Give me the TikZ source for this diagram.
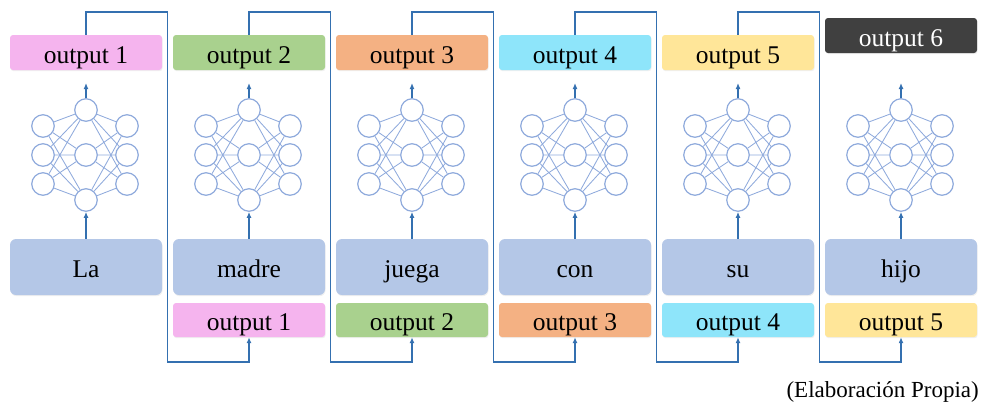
\documentclass[tikz,border=0pt]{standalone}
\usepackage{fontspec}
\setmainfont{Liberation Serif}
\usetikzlibrary{arrows.meta}
\usetikzlibrary{shadows}
\definecolor{pinkbox}{RGB}{245,180,238}
\definecolor{greenbox}{RGB}{169,209,142}
\definecolor{orangebox}{RGB}{244,177,131}
\definecolor{cyanbox}{RGB}{142,229,250}
\definecolor{yellowbox}{RGB}{255,230,153}
\definecolor{wordbox}{RGB}{180,199,231}
\definecolor{darkbox}{RGB}{64,64,64}
\definecolor{feedline}{RGB}{52,112,176}
\definecolor{neuronline}{RGB}{143,170,220}
\tikzset{
	box/.style={rounded corners=3pt, minimum width=152pt, inner sep=0pt,
		font=\fontsize{25.5}{30}\selectfont, text height=22pt, text depth=1pt,
		drop shadow={opacity=0.12, shadow xshift=0.6pt, shadow yshift=-1.2pt}},
	outbox/.style={box, minimum height=35pt},
	tokenbox/.style={box, fill=wordbox, minimum height=56pt, rounded corners=6pt},
	neuron/.style={circle, draw=neuronline, fill=white, line width=1.2pt, minimum size=22.5pt, inner sep=0pt},
	link/.style={draw=neuronline, line width=0.85pt},
	flow/.style={feedline, line width=1.4pt, -{Latex[length=6pt,width=5pt]}},
	feed/.style={feedline, line width=1.4pt, -{Latex[length=6pt,width=5pt]}}
}
\newcommand{\network}[2] % x in px, name prefix
{
	% neurons
	\node[neuron] (#2t) at (#1,110) {};
	\node[neuron] (#2m) at (#1,155) {};
	\node[neuron] (#2b) at (#1,200) {};
	\node[neuron] (#2l1) at (#1-43,126) {};
	\node[neuron] (#2l2) at (#1-43,155) {};
	\node[neuron] (#2l3) at (#1-43,184) {};
	\node[neuron] (#2r1) at (#1+41,126) {};
	\node[neuron] (#2r2) at (#1+41,155) {};
	\node[neuron] (#2r3) at (#1+41,184) {};
	% links left - centre
	\draw[link] (#2l1) -- (#2t) (#2l1) -- (#2m) (#2l1) -- (#2b);
	\draw[link] (#2l2) -- (#2t) (#2l2) -- (#2m) (#2l2) -- (#2b);
	\draw[link] (#2l3) -- (#2t) (#2l3) -- (#2m) (#2l3) -- (#2b);
	% links centre - right
	\draw[link] (#2t) -- (#2r1) (#2t) -- (#2r2) (#2t) -- (#2r3);
	\draw[link] (#2m) -- (#2r1) (#2m) -- (#2r2) (#2m) -- (#2r3);
	\draw[link] (#2b) -- (#2r1) (#2b) -- (#2r2) (#2b) -- (#2r3);
	% output arrow
	\coordinate (#2up) at (#1,83);
	\draw[flow] (#2t) -- (#2up);
}
\begin{document}
\begin{tikzpicture}[x=1pt, y=-1pt]
	\useasboundingbox (0,0) rectangle (982,405);
	% top outputs
	\node[outbox, fill=pinkbox] (out1) at (86,52.5) {output 1};
	\node[outbox, fill=greenbox] (out2) at (249,52.5) {output 2};
	\node[outbox, fill=orangebox] (out3) at (412,52.5) {output 3};
	\node[outbox, fill=cyanbox] (out4) at (575,52.5) {output 4};
	\node[outbox, fill=yellowbox] (out5) at (738,52.5) {output 5};
	\node[outbox, fill=darkbox, text=white] (out6) at (901,35.5) {output 6};
	% words
	\node[tokenbox] (word1) at (86,267) {La};
	\node[tokenbox] (word2) at (249,267) {madre};
	\node[tokenbox] (word3) at (412,267) {juega};
	\node[tokenbox] (word4) at (575,267) {con};
	\node[tokenbox] (word5) at (738,267) {su};
	\node[tokenbox] (word6) at (901,267) {hijo};
	% previous outputs
	\node[outbox, fill=pinkbox, minimum height=34pt] (in2) at (249,320) {output 1};
	\node[outbox, fill=greenbox, minimum height=34pt] (in3) at (412,320) {output 2};
	\node[outbox, fill=orangebox, minimum height=34pt] (in4) at (575,320) {output 3};
	\node[outbox, fill=cyanbox, minimum height=34pt] (in5) at (738,320) {output 4};
	\node[outbox, fill=yellowbox, minimum height=34pt] (in6) at (901,320) {output 5};
	% networks
	\network{86}{c1}
	\network{249}{c2}
	\network{412}{c3}
	\network{575}{c4}
	\network{738}{c5}
	\network{901}{c6}
	% word into network
	\draw[flow] (word1) -- (c1b);
	\draw[flow] (word2) -- (c2b);
	\draw[flow] (word3) -- (c3b);
	\draw[flow] (word4) -- (c4b);
	\draw[flow] (word5) -- (c5b);
	\draw[flow] (word6) -- (c6b);
	% feedback corners
	\coordinate (g1a) at (167.5,12);
	\coordinate (g1b) at (167.5,362);
	\coordinate (g2a) at (330.5,12);
	\coordinate (g2b) at (330.5,362);
	\coordinate (g3a) at (493.5,12);
	\coordinate (g3b) at (493.5,362);
	\coordinate (g4a) at (656.5,12);
	\coordinate (g4b) at (656.5,362);
	\coordinate (g5a) at (819.5,12);
	\coordinate (g5b) at (819.5,362);
	% feedback
	\draw[feed] (out1) |- (g1a) -- (g1b) -| (in2);
	\draw[feed] (out2) |- (g2a) -- (g2b) -| (in3);
	\draw[feed] (out3) |- (g3a) -- (g3b) -| (in4);
	\draw[feed] (out4) |- (g4a) -- (g4b) -| (in5);
	\draw[feed] (out5) |- (g5a) -- (g5b) -| (in6);
	% source
	\node[anchor=east, inner sep=0pt, font=\fontsize{23}{28}\selectfont] (src) at (979,392) {(Elaboración Propia)};
\end{tikzpicture}
\end{document}
